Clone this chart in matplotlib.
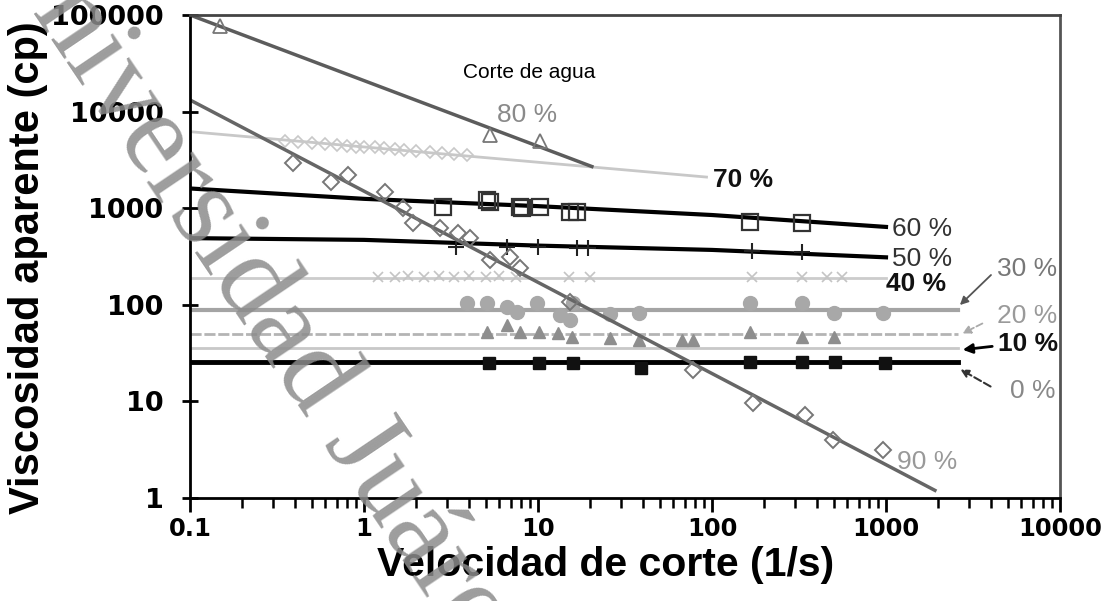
import numpy as np
import matplotlib
matplotlib.use('Agg')
import matplotlib.pyplot as plt

# lineas de ajuste (corte de agua)
fit80_x = [0.1, 20.4]
fit80_y = [100000, 2700]
fit90_x = [0.1, 1910]
fit90_y = [13200, 1.2]
fit70_x = [0.1, 93]
fit70_y = [6200, 2100]
fit60_x = [0.1, 1, 10, 100, 1000]
fit60_y = [1600, 1250, 1050, 850, 640]
fit50_x = [0.1, 1, 10, 100, 1000]
fit50_y = [490, 470, 410, 370, 310]
fit40_x = [0.1, 1000]
fit40_y = [190, 190]
fit30_x = [0.1, 2600]
fit30_y = [88, 88]
fit20_x = [0.1, 2600]
fit20_y = [50, 50]
fit10_x = [0.1, 2600]
fit10_y = [36, 36]
fit0_x = [0.1, 2600]
fit0_y = [25.6, 25.6]

# puntos medidos
p80_x = [0.149, 5.3, 10.3]
p80_y = [77000, 5730, 4960]
p90_x = [0.39, 0.65, 0.81, 1.32, 1.67, 1.91, 2.73, 3.47, 4.08, 5.3, 6.9, 7.9, 15.3, 78, 172, 342, 496, 962]
p90_y = [2940, 1870, 2210, 1470, 1005, 703, 624, 554, 490, 291, 312, 240, 107, 21.1, 9.6, 7.2, 4.0, 3.14]
p70_x = [0.35, 0.42, 0.5, 0.6, 0.7, 0.8, 0.9, 1.0, 1.15, 1.3, 1.5, 1.7, 2.0, 2.4, 2.8, 3.3, 3.9]
p70_y = [4950, 4800, 4700, 4600, 4500, 4450, 4350, 4300, 4250, 4200, 4100, 4000, 3900, 3800, 3700, 3650, 3550]
p60_x = [2.85, 5.1, 5.3, 7.9, 8.1, 10.3, 15.3, 16.7, 165, 330]
p60_y = [1030, 1230, 1160, 1030, 1000, 1030, 920, 920, 720, 700]
p50_x = [3.4, 6.6, 10, 16.8, 19.4, 170, 330]
p50_y = [400, 400, 400, 390, 390, 360, 350]
p40_x = [1.2, 1.5, 1.8, 2.2, 2.7, 3.3, 4.0, 5.0, 6.0, 7.5, 15, 20, 170, 330, 460, 560]
p40_y = [195, 195, 200, 195, 200, 195, 200, 195, 200, 195, 195, 195, 195, 195, 195, 195]
p30_x = [3.9, 5.1, 6.6, 7.6, 9.9, 13.3, 15.2, 15.8, 26, 38, 166, 330, 500, 960]
p30_y = [104, 104, 95, 84, 104, 78, 70, 104, 80, 82, 104, 104, 82, 82]
p20_x = [5.1, 6.6, 7.9, 10.2, 13.1, 15.7, 26, 38, 67, 78, 166, 330, 500]
p20_y = [52, 62, 52, 52, 51, 46, 45, 43, 43, 43, 52, 46, 46]
p0_x = [5.2, 10.2, 15.9, 39, 166, 330, 510, 990]
p0_y = [25, 25, 25, 22, 25.5, 25.5, 25.5, 25]

fig = plt.figure(figsize=(11.09, 6.01), dpi=100)
ax = fig.add_axes([190/1109, 1-498/601, 870/1109, 483/601])
ax.set_xscale('log')
ax.set_yscale('log')
ax.set_xlim(0.1, 10000)
ax.set_ylim(1, 100000)

ax.plot(fit70_x, fit70_y, color='#c8c8c8', lw=2)
ax.plot(p70_x, p70_y, 'D', ms=6, mfc='none', mec='#c8c8c8', mew=1.2)
ax.plot(fit40_x, fit40_y, color='#cccccc', lw=2)
ax.plot(p40_x, p40_y, 'x', ms=7, color='#c4c4c4', mew=1.2)
ax.plot(fit10_x, fit10_y, color='#c8c8c8', lw=2)
ax.plot(fit20_x, fit20_y, color='#b4b4b4', lw=2, ls=(0, (4, 1)))
ax.plot(p20_x, p20_y, '^', ms=9, color='#8e8e8e')
ax.plot(fit30_x, fit30_y, color='#a4a4a4', lw=3)
ax.plot(p30_x, p30_y, 'o', ms=10, color='#a8a8a8')
ax.plot(fit0_x, fit0_y, color='black', lw=3.5)
ax.plot(p0_x, p0_y, 's', ms=9, color='#111111')
ax.plot(fit50_x, fit50_y, color='black', lw=3)
ax.plot(p50_x, p50_y, '+', ms=12, color='#222222', mew=1.5)
ax.plot(fit60_x, fit60_y, color='black', lw=3)
ax.plot(p60_x, p60_y, 's', ms=11, mfc='none', mec='#333333', mew=1.6)
ax.plot(fit80_x, fit80_y, color='#5c5c5c', lw=2.5)
ax.plot(p80_x, p80_y, '^', ms=10, mfc='none', mec='#777777', mew=1.3)
ax.plot(fit90_x, fit90_y, color='#666666', lw=2.5)
ax.plot(p90_x, p90_y, 'D', ms=8, mfc='none', mec='#777777', mew=1.4)

# etiquetas de cada curva
lbl = dict(va='center', ha='left', fontsize=19, family='Liberation Sans', clip_on=False)
ax.text(5.8, 9200, '80 %', color='#8a8a8a', **lbl)
ax.text(101, 1960, '70 %', color='#111111', fontweight='bold', **lbl)
ax.text(1080, 609, '60 %', color='#333333', **lbl)
ax.text(1080, 298, '50 %', color='#333333', **lbl)
ax.text(1000, 164, '40 %', color='#111111', fontweight='bold', **lbl)
ax.text(4345, 235, '30 %', color='#777777', **lbl)
ax.text(4345, 76.6, '20 %', color='#9a9a9a', **lbl)
ax.text(4400, 39.3, '10 %', color='#111111', fontweight='bold', **lbl)
ax.text(5160, 12.8, '0 %', color='#888888', **lbl)
ax.text(1157, 2.36, '90 %', color='#999999', **lbl)
ax.text(3.7, 25700, 'Corte de agua', va='center', ha='left', fontsize=15,
        family='Liberation Sans', color='black')

ax.annotate('', xy=(2590, 95), xytext=(4120, 213),
            arrowprops=dict(arrowstyle='-|>', color='#555555', lw=1.3, mutation_scale=12))
ax.annotate('', xy=(2660, 49), xytext=(3700, 66),
            arrowprops=dict(arrowstyle='-|>', color='#aaaaaa', lw=1.3, ls='--', mutation_scale=12))
ax.annotate('', xy=(2660, 34), xytext=(4230, 37.4),
            arrowprops=dict(arrowstyle='-|>', color='black', lw=2, mutation_scale=14))
ax.annotate('', xy=(2590, 22.2), xytext=(4120, 13.8),
            arrowprops=dict(arrowstyle='-|>', color='#333333', lw=1.5, ls='--', mutation_scale=12))

for s in ax.spines.values():
    s.set_linewidth(2)
ax.spines['top'].set_color('#444444')
ax.spines['right'].set_color('#555555')

ax.set_xticks([0.1, 1, 10, 100, 1000, 10000])
ax.set_xticklabels(['0.1', '1', '10', '100', '1000', '10000'])
ax.set_yticks([1, 10, 100, 1000, 10000, 100000])
ax.set_yticklabels(['1', '10', '100', '1000', '10000', '100000'])
ax.yaxis.set_minor_locator(matplotlib.ticker.NullLocator())
ax.tick_params(axis='x', which='major', direction='out', length=10, width=2, pad=4)
ax.tick_params(axis='x', which='minor', direction='out', length=7, width=1.8)
ax.tick_params(axis='y', which='major', direction='inout', length=12, width=2, pad=13)
for t in ax.get_yticklabels():
    t.set_fontsize(19.5)
    t.set_fontweight('bold')
    t.set_family('DejaVu Sans')
for t in ax.get_xticklabels():
    t.set_fontsize(17.5)
    t.set_fontweight('bold')
    t.set_family('DejaVu Sans')

fig.text(28/1109, 1-268/601, 'Viscosidad aparente (cp)', rotation=90, ha='center', va='center',
         fontsize=30, fontweight='bold', family='Liberation Sans')
fig.text(606/1109, 1-565/601, 'Velocidad de corte (1/s)', ha='center', va='center',
         fontsize=29.5, fontweight='bold', family='Liberation Sans')

# marca de agua
fig.text(-16/1109, 1+60/601, 'Universidad Juárez', rotation=-56, rotation_mode='anchor',
         ha='left', va='baseline', fontsize=85, family='Liberation Serif',
         color='#8c8c8c', alpha=0.85, zorder=10)

fig.savefig('out.png', dpi=100)
